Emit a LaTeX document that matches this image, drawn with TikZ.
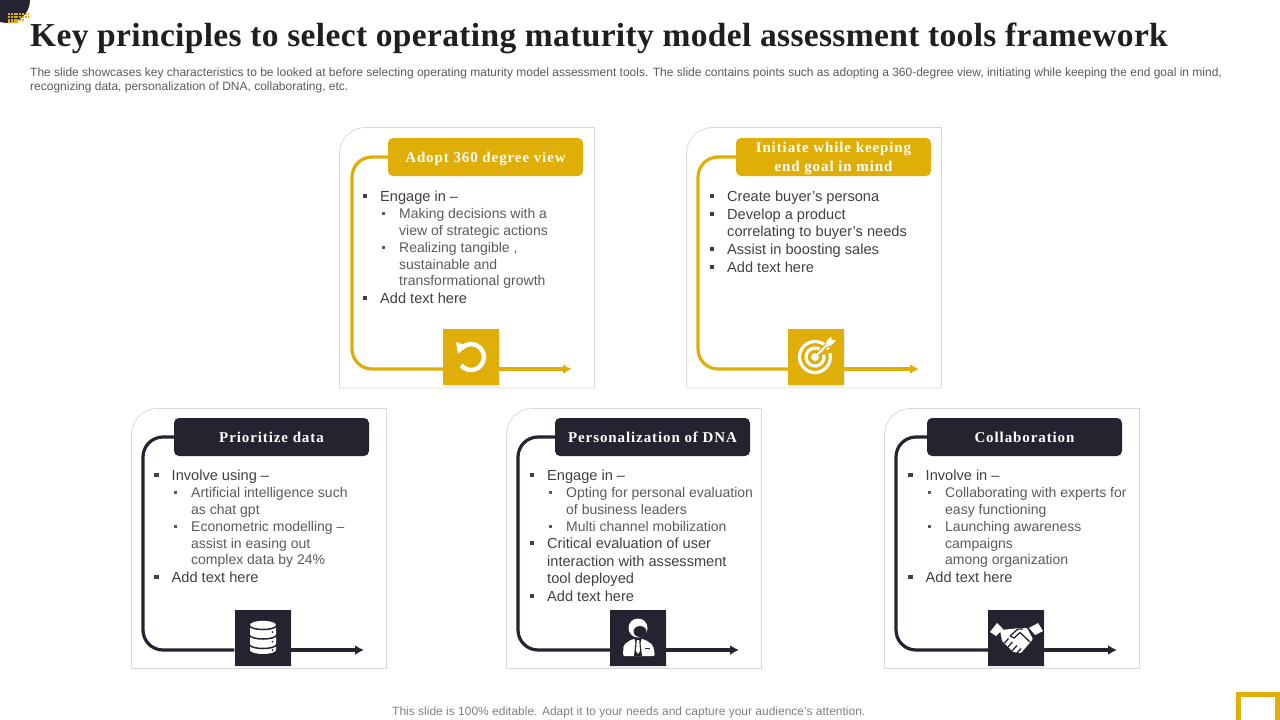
\documentclass[tikz,border=0pt]{standalone}
\usepackage{fontspec}
\setmainfont{Liberation Sans}
\newfontfamily\titlefont[LetterSpace=1]{Liberation Serif}
\newfontfamily\headfont[LetterSpace=6]{Liberation Serif}
\usetikzlibrary{arrows.meta,shadows}
\definecolor{gold}{HTML}{DFAE07}
\definecolor{ink}{HTML}{262230}
\definecolor{cardline}{HTML}{D9D9D9}
\definecolor{rowdark}{HTML}{404040}
\definecolor{rowgrey}{HTML}{5A5A5A}
\tikzset{
  cardbox/.style={draw=cardline,line width=0.8pt},
  headbox/.style={minimum width=195pt,minimum height=38pt,inner sep=0pt,rounded corners=5pt,text=white,align=center,
    text height=11pt,text depth=0pt,font=\fontsize{15}{19}\selectfont\headfont\bfseries},
  iconbox/.style={minimum size=56pt,inner sep=0pt,drop shadow={shadow xshift=1pt,shadow yshift=-1.5pt,opacity=.15}},
  rail/.style={line width=3.2pt,rounded corners=20pt},
  railend/.style={line width=3.2pt,-{Latex[length=9pt,width=10pt]}},
  rowbase/.style={anchor=west,inner sep=0pt,text height=14pt,text depth=3pt},
  conta/.style={rowbase,text=rowdark,font=\fontsize{14.6}{17}\selectfont},
  contb/.style={rowbase,text=rowgrey,font=\fontsize{14}{17}\selectfont},
  rowa/.style={conta,label={[fill=rowdark,inner sep=0pt,minimum size=4.5pt,label distance=12.75pt]left:{}}},
  rowb/.style={contb,label={[fill=rowgrey,inner sep=0pt,minimum size=3pt,label distance=13.5pt]left:{}}},
  smalltext/.style={anchor=west,inner sep=0pt,text=rowgrey,font=\fontsize{12}{14}\selectfont}
}
\begin{document}
\begin{tikzpicture}[x=1pt,y=-1pt]
  \useasboundingbox (0,0) rectangle (1280,720);
  % corners of the slide
  \fill[ink] (7,0) circle (23pt);
  \draw[gold,line width=2pt,dash pattern=on 2pt off 0.8pt] (8,14) -- (28,14) (8,16.8) -- (28,16.8) (8,19.6) -- (24,19.6) (8,22.2) -- (18,22.2);
  \draw[gold,line width=5pt] (1238.5,726) -- (1238.5,694.5) -- (1277.5,694.5) -- (1277.5,726);
  % texts round the cards
  \draw
    (30,38.5) node[anchor=west,inner sep=0pt,text=black!88,font=\fontsize{33.5}{38}\selectfont\titlefont\bfseries] (title){Key principles to select operating maturity model assessment tools framework}
    (30,73) node[smalltext] (sub1){The slide showcases key characteristics to be looked at before selecting operating maturity model assessment tools. The slide contains points such as adopting a 360-degree view, initiating while keeping the end goal in mind,}
    (30,87) node[smalltext] (sub2){recognizing data, personalization of DNA, collaborating, etc.}
    (392,712) node[smalltext,text=black!50] (foot){This slide is 100\% editable. Adapt it to your needs and capture your audience’s attention.};
  % cards
  \draw[cardbox] (339.5,388) [rounded corners=26pt] -- (339.5,127.5) [sharp corners] -- (594.5,127.5) -- (594.5,388) -- cycle;
  \draw[cardbox] (686.5,388) [rounded corners=26pt] -- (686.5,127.5) [sharp corners] -- (941.5,127.5) -- (941.5,388) -- cycle;
  \draw[cardbox] (131.5,668.5) [rounded corners=26pt] -- (131.5,408.5) [sharp corners] -- (386.5,408.5) -- (386.5,668.5) -- cycle;
  \draw[cardbox] (506.5,668.5) [rounded corners=26pt] -- (506.5,408.5) [sharp corners] -- (761.5,408.5) -- (761.5,668.5) -- cycle;
  \draw[cardbox] (884.5,668.5) [rounded corners=26pt] -- (884.5,408.5) [sharp corners] -- (1139.5,408.5) -- (1139.5,668.5) -- cycle;
  % headers and icon squares
  \draw
    (485.5,157) node[headbox,fill=gold] (head1){Adopt 360 degree view}
    (833.5,157) node[headbox,fill=gold,text height=28pt,text depth=0pt] (head2){Initiate while keeping\\end goal in mind}
    (271.5,437) node[headbox,fill=ink] (head3){Prioritize data}
    (652.5,437) node[headbox,fill=ink] (head4){Personalization of DNA}
    (1024.5,437) node[headbox,fill=ink] (head5){Collaboration};
  \coordinate (turn1) at (352,369);
  \coordinate (turn2) at (698,369);
  \coordinate (turn3) at (143,650);
  \coordinate (turn4) at (518,650);
  \coordinate (turn5) at (896,650);
  \coordinate (tip1) at (572,369);
  \coordinate (tip2) at (919,369);
  \coordinate (tip3) at (364,650);
  \coordinate (tip4) at (739,650);
  \coordinate (tip5) at (1117,650);
  \node[iconbox,fill=gold] (icon1) at (471,357) {};
  \node[iconbox,fill=gold] (icon2) at (816,357) {};
  \node[iconbox,fill=ink] (icon3) at (262.5,637.5) {};
  \node[iconbox,fill=ink] (icon4) at (638,638) {};
  \node[iconbox,fill=ink] (icon5) at (1016,638) {};
  \begin{scope}[gold]
    \draw[rail] (head1.west) -| (turn1) -- (icon1.west |- turn1);
    \draw[railend] (icon1.east |- turn1) -- (tip1);
    \draw[rail] (head2.west) -| (turn2) -- (icon2.west |- turn2);
    \draw[railend] (icon2.east |- turn2) -- (tip2);
  \end{scope}
  \begin{scope}[ink]
    \draw[rail] (head3.west) -| (turn3) -- (icon3.west |- turn3);
    \draw[railend] (icon3.east |- turn3) -- (tip3);
    \draw[rail] (head4.west) -| (turn4) -- (icon4.west |- turn4);
    \draw[railend] (icon4.east |- turn4) -- (tip4);
    \draw[rail] (head5.west) -| (turn5) -- (icon5.west |- turn5);
    \draw[railend] (icon5.east |- turn5) -- (tip5);
  \end{scope}
  % card texts
  \draw
    (380,196) node[rowa] (a1){Engage in –}
    (399,213) node[rowb] (a2){Making decisions with a}
    (399,230) node[contb] (a3){view of strategic actions}
    (399,247) node[rowb] (a4){Realizing tangible ,}
    (399,264) node[contb] (a5){sustainable and}
    (399,280) node[contb] (a6){transformational growth}
    (380,298) node[rowa] (a7){Add text here};
  \draw
    (727,196) node[rowa] (b1){Create buyer’s persona}
    (727,214) node[rowa] (b2){Develop a product}
    (727,231) node[conta] (b3){correlating to buyer’s needs}
    (727,249) node[rowa] (b4){Assist in boosting sales}
    (727,267) node[rowa] (b5){Add text here};
  \draw
    (171.5,475) node[rowa] (c1){Involve using –}
    (191,492) node[rowb] (c2){Artificial intelligence such}
    (191,509) node[contb] (c3){as chat gpt}
    (191,526) node[rowb] (c4){Econometric modelling –}
    (191,543) node[contb] (c5){assist in easing out}
    (191,559) node[contb] (c6){complex data by 24\%}
    (171.5,577) node[rowa] (c7){Add text here};
  \draw
    (547,475) node[rowa] (d1){Engage in –}
    (566,492) node[rowb] (d2){Opting for personal evaluation}
    (566,509) node[contb] (d3){of business leaders}
    (566,526) node[rowb] (d4){Multi channel mobilization}
    (547,543) node[rowa] (d5){Critical evaluation of user}
    (547,561) node[conta] (d6){interaction with assessment}
    (547,578) node[conta] (d7){tool deployed}
    (547,596) node[rowa] (d8){Add text here};
  \draw
    (925.5,475) node[rowa] (e1){Involve in –}
    (945,492) node[rowb] (e2){Collaborating with experts for}
    (945,509) node[contb] (e3){easy functioning}
    (945,526) node[rowb] (e4){Launching awareness}
    (945,543) node[contb] (e5){campaigns}
    (945,559) node[contb] (e6){among organization}
    (925.5,577) node[rowa] (e7){Add text here};
  % icon drawings
  \begin{scope}[white]
    % turn back
    \draw[line width=4.5pt] (471,357) ++(135:13pt) arc[start angle=135,end angle=-140,radius=13pt];
    \fill (456,342) -- (468,346) -- (458,353.5) -- cycle;
    % target
    \draw[line width=3.2pt] (815,357) ++(30:15.5pt) arc[start angle=30,end angle=375,radius=15.5pt];
    \draw[line width=3.2pt] (815,357) ++(30:9pt) arc[start angle=30,end angle=375,radius=9pt];
    \fill (815,357) circle (4pt);
    \draw[gold,line width=4.5pt] (817,355) -- (827,345);
    \draw[line width=1.8pt] (815,357) -- (828,344);
    \fill (826,346) -- (826.5,341) -- (831,336.5) -- (832,340) -- (836,340.5) -- (831,345.5) -- cycle;
    % stacked discs
    \fill (250,626) -- (250,650) arc[start angle=180,end angle=360,x radius=13pt,y radius=4pt] -- (276,626) -- cycle;
    \fill (263,625) ellipse[x radius=13pt,y radius=4.2pt];
    \draw[ink,line width=1.5pt] (249.5,625.5) arc[start angle=180,end angle=360,x radius=13.5pt,y radius=4pt];
    \draw[ink,line width=1.5pt] (249.5,635) arc[start angle=180,end angle=360,x radius=13.5pt,y radius=4pt];
    \draw[ink,line width=1.5pt] (249.5,644.5) arc[start angle=180,end angle=360,x radius=13.5pt,y radius=4pt];
    \fill[ink] (272.5,632) circle (1pt) (272.5,641.5) circle (1pt) (272.5,650) circle (1pt);
    % man with tie
    \fill (638,628) circle (9.5pt);
    \fill[ink] (640,631.5) ellipse[x radius=6.5pt,y radius=5.5pt];
    \fill[rounded corners=2pt] (623,656) -- (623.5,645) -- (632,639) -- (644,639) -- (653,645) -- (655,656) -- cycle;
    \fill[ink] (634.5,639) -- (641.5,639) -- (640.5,643) -- (642,656) -- (634,656) -- (635.5,643) -- cycle;
    \fill (636.8,640) -- (639.2,640) -- (640,651) -- (638,654) -- (636,651) -- cycle;
    \draw[ink,line width=1pt] (645,648) -- (650,648);
    % handshake
    \fill (990,632) -- (997,623) -- (1003,629) -- (996,636) -- cycle;
    \fill (1029,628) -- (1038,623) -- (1043,631) -- (1035,635) -- cycle;
    \fill[rounded corners=1pt] (1000,630) -- (1011,629) -- (1019,628) -- (1027,628) -- (1033,639) -- (1021,653) -- (1013,652) -- (1002,641) -- cycle;
    \draw[ink,line width=1.3pt] (1010,636) -- (1018,629) -- (1023,629);
    \draw[ink,line width=1.3pt] (1010,636) -- (1014,638) -- (1020,632.5) -- (1030,642);
    \draw[ink,line width=1.3pt] (1004.5,643) -- (1008.5,638.5) (1008,647) -- (1012.5,642) (1012,651) -- (1017,645.5) (1017,653) -- (1021,648.5);
  \end{scope}
\end{tikzpicture}
\end{document}
